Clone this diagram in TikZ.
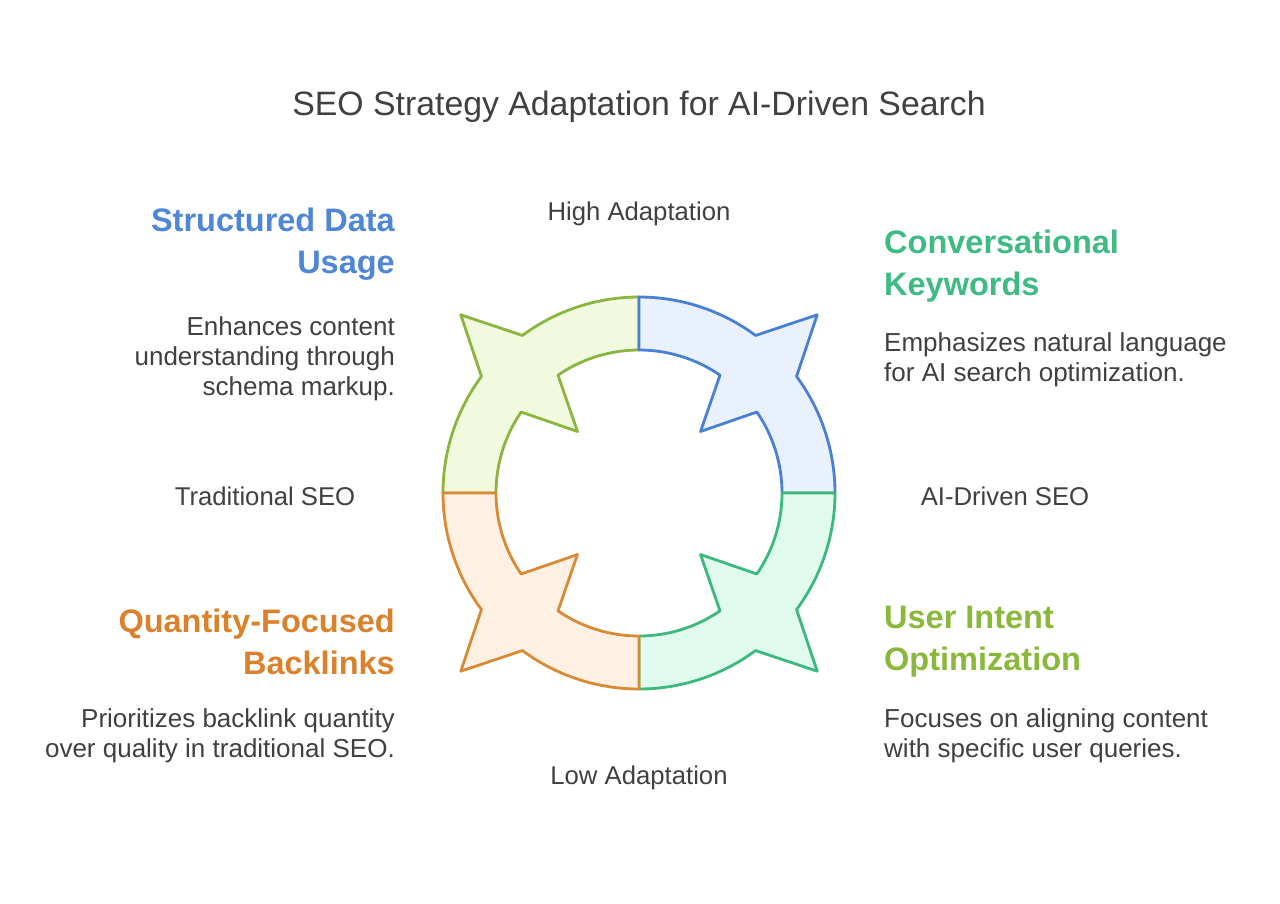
\documentclass[tikz,border=0pt]{standalone}
\usepackage{fontspec}
\setmainfont{Liberation Sans}
\definecolor{txt}{HTML}{404040}
\definecolor{hblue}{HTML}{4F86D6}
\definecolor{hgreen}{HTML}{3DBB82}
\definecolor{horange}{HTML}{D9822B}
\definecolor{hlime}{HTML}{8AB83B}
\definecolor{slime}{HTML}{8BB53F}\definecolor{flime}{HTML}{F1FADF}
\definecolor{sblue}{HTML}{4A80D4}\definecolor{fblue}{HTML}{E9F1FD}
\definecolor{sgreen}{HTML}{3CB97C}\definecolor{fgreen}{HTML}{E1FAEE}
\definecolor{sorange}{HTML}{D98A35}\definecolor{forange}{HTML}{FEF1E3}
\tikzset{
  titletext/.style={font=\fontsize{33.8}{40}\selectfont, text=txt, inner sep=0pt},
  headtext/.style={font=\bfseries\fontsize{32.5}{42}\selectfont, inner sep=0pt},
  bodytext/.style={font=\fontsize{26}{30}\selectfont, text=txt, inner sep=0pt},
  axistext/.style={font=\fontsize{25.7}{30}\selectfont, text=txt, inner sep=0pt},
  seg/.style={line width=2.8pt, line join=round},
}
\newcommand{\quadseg}[3]{% start angle, stroke, fill
  \pgfmathsetmacro{\aO}{#1}
  \pgfmathsetmacro{\aM}{#1+45}
  \pgfmathsetmacro{\aE}{#1+90}
  \draw[seg, draw=#2, fill=#3]
    (\aO:196pt) arc[start angle=\aO, end angle=\aM-8.5, radius=196pt]
    -- (\aM:252pt) -- (\aM+8.5:196pt)
    arc[start angle=\aM+8.5, end angle=\aE, radius=196pt]
    -- (\aE:143pt)
    arc[start angle=\aE, end angle=\aM+10.5, radius=143pt]
    -- (\aM:87pt) -- (\aM-10.5:143pt)
    arc[start angle=\aM-10.5, end angle=\aO, radius=143pt]
    -- cycle;
}
\begin{document}
\begin{tikzpicture}[x=1pt,y=1pt]
\useasboundingbox[fill=white] (0,0) rectangle (1280,-903);
\node[titletext] (title) at (639,-107) {SEO Strategy Adaptation for AI-Driven Search};

\begin{scope}[shift={(639,-493)}]
  \quadseg{90}{slime}{flime}
  \quadseg{0}{sblue}{fblue}
  \quadseg{-90}{sgreen}{fgreen}
  \quadseg{180}{sorange}{forange}
\end{scope}

\node[axistext] (high) at (639,-214) {High Adaptation};
\node[axistext] (low) at (639,-778) {Low Adaptation};
\node[axistext] (trad) at (265,-496) {Traditional SEO};
\node[axistext] (aid) at (1005,-496) {AI-Driven SEO};

\node[headtext, text=hblue, anchor=east, align=right] (h1) at (395,-244) {Structured Data\\Usage};
\node[bodytext, anchor=east, align=right] (b1) at (395,-359) {Enhances content\\understanding through\\schema markup.};

\node[headtext, text=hgreen, anchor=west, align=left] (h2) at (884,-266) {Conversational\\Keywords};
\node[bodytext, anchor=west, align=left] (b2) at (884,-360) {Emphasizes natural language\\for AI search optimization.};

\node[headtext, text=horange, anchor=east, align=right] (h3) at (395,-642) {Quantity-Focused\\Backlinks};
\node[bodytext, anchor=east, align=right] (b3) at (395,-736) {Prioritizes backlink quantity\\over quality in traditional SEO.};

\node[headtext, text=hlime, anchor=west, align=left] (h4) at (884,-642) {User Intent\\Optimization};
\node[bodytext, anchor=west, align=left] (b4) at (884,-736) {Focuses on aligning content\\with specific user queries.};
\end{tikzpicture}
\end{document}
